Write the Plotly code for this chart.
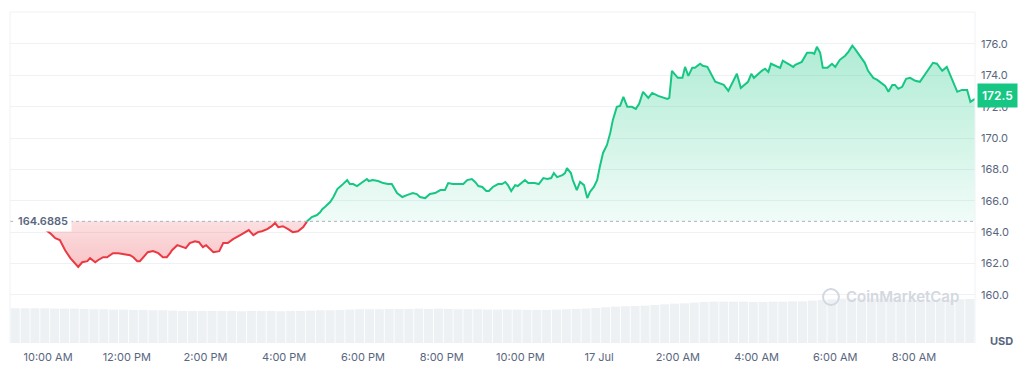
import numpy as np
import pandas as pd
import plotly.graph_objects as go

# ---------------- data ----------------
baseline = 164.6885

times16 = ["09:34","09:55","10:03","10:11","10:18","10:26","10:34","10:41","10:46","10:52",
           "11:00","11:04","11:12","11:16","11:24","11:30","11:39","11:47","11:57","12:05",
           "12:10","12:16","12:20","12:25","12:32","12:40","12:48","12:55","13:01","13:06",
           "13:09","13:17","13:24","13:30","13:36","13:44","13:50","13:56","14:01","14:07",
           "14:12","14:21","14:27","14:34","14:42","14:53","15:00","15:06","15:13","15:20",
           "15:26","15:34","15:41","15:46","15:51","15:58","16:06","16:13","16:21","16:29",
           "16:35","16:42","16:50","16:55","16:58","17:02","17:10","17:15","17:21","17:28",
           "17:36","17:40","17:45","17:51","17:59","18:06","18:09","18:15","18:23","18:31",
           "18:38","18:44","18:52","19:00","19:07","19:16","19:22","19:27","19:35","19:42",
           "19:50","19:58","20:05","20:10","20:17","20:28","20:33","20:39","20:46","20:51",
           "20:56","21:02","21:08","21:12","21:18","21:26","21:32","21:37","21:41","21:46",
           "21:52","21:56","22:03","22:07","22:12","22:18","22:22","22:28","22:35","22:41",
           "22:47","22:51","22:56","23:04","23:08","23:11","23:17","23:20","23:26","23:31",
           "23:37","23:42","23:46","23:52","23:57"]
prices16 = [164.69,164.19,163.94,163.62,163.49,162.85,162.34,162.02,161.78,162.08,
            162.15,162.34,162.08,162.21,162.40,162.40,162.66,162.66,162.59,162.53,
            162.40,162.15,162.15,162.40,162.72,162.79,162.66,162.40,162.40,162.66,
            162.85,163.17,163.04,162.98,163.30,163.42,163.36,163.04,163.17,162.91,
            162.72,162.79,163.30,163.30,163.55,163.81,164.00,164.13,163.81,164.00,
            164.06,164.19,164.38,164.58,164.32,164.38,164.19,164.00,164.06,164.32,
            164.70,164.96,165.09,165.28,165.47,165.60,165.92,166.24,166.75,167.00,
            167.32,167.07,167.07,166.94,167.20,167.39,167.26,167.32,167.26,167.13,
            167.07,167.07,166.49,166.24,166.36,166.49,166.43,166.24,166.17,166.43,
            166.49,166.68,166.68,167.13,167.07,167.07,167.07,167.32,167.39,167.20,
            166.94,166.88,166.62,166.62,166.88,167.07,167.07,167.20,167.00,166.62,
            167.00,166.94,167.20,167.32,167.13,167.13,167.13,167.07,167.45,167.39,
            167.45,167.77,167.51,167.64,167.77,168.09,167.77,167.32,166.68,167.20,
            167.00,166.17,166.56,166.88,167.32]

times17 = ["00:01","00:06","00:12","00:17","00:21","00:27","00:32","00:37","00:43","00:50",
           "00:56","01:01","01:07","01:15","01:21","01:30","01:44","01:47","01:51","02:00",
           "02:07","02:11","02:16","02:22","02:26","02:34","02:38","02:45","02:57","03:04",
           "03:10","03:17","03:27","03:30","03:36","03:42","03:47","03:52","03:56","04:08",
           "04:13","04:18","04:22","04:36","04:40","04:56","04:59","05:09","05:17","05:25",
           "05:28","05:32","05:37","05:41","05:48","05:55","06:00","06:07","06:15","06:20",
           "06:26","06:30","06:38","06:45","06:50","06:58","07:04","07:11","07:16","07:21",
           "07:27","07:31","07:36","07:42","07:48","07:54","08:02","08:09","08:14","08:22",
           "08:29","08:35","08:43","08:50","08:58","09:06","09:13","09:21","09:26","09:33"]
prices17 = [168.15,169.05,169.56,170.33,171.16,171.99,172.05,172.63,171.99,171.99,
            171.86,172.18,172.95,172.56,172.88,172.69,172.50,172.56,174.29,173.84,
            173.84,174.54,173.97,174.48,174.48,174.74,174.61,174.54,173.59,173.46,
            173.39,173.01,173.90,174.10,173.20,173.39,173.59,174.10,173.84,174.29,
            174.42,174.22,174.74,174.48,174.93,174.54,174.67,174.86,175.44,175.44,
            175.37,175.82,175.44,174.48,174.48,174.74,174.54,174.99,175.25,175.50,
            175.89,175.69,175.18,174.80,174.29,173.84,173.71,173.52,173.33,172.95,
            173.39,173.39,173.14,173.27,173.78,173.84,173.65,173.59,173.90,174.42,
            174.80,174.74,174.29,174.54,173.71,172.95,173.07,173.07,172.31,172.50]

# volume bars, every 15 minutes starting 09:10 on 16 Jul (relative units)
volume = [10.5,10.5,10.5,10.5,10.4,10.4,10.4,10.3,10.2,10.2,
          10.1,10.1,10.0,10.0,9.9,9.9,9.8,9.7,9.7,9.7,
          9.7,9.7,9.7,9.6,9.7,9.7,9.7,9.6,9.7,9.7,
          9.8,9.9,9.9,10.0,10.1,10.2,10.2,10.2,10.3,10.3,
          10.3,10.4,10.3,10.4,10.3,10.2,10.2,10.2,10.1,10.1,
          10.1,10.1,10.0,10.0,10.0,10.1,10.2,10.3,10.4,10.6,
          10.8,11.0,11.1,11.2,11.3,11.5,11.7,11.9,12.0,12.2,
          12.4,12.5,12.5,12.5,12.5,12.4,12.4,12.5,12.5,12.6,
          12.6,12.8,13.0,13.2,13.4,13.4,13.4,13.4,13.4,13.4,
          13.2,13.1,13.1,13.1,13.1,13.1,13.2,13.3]

x_ticktext = ["10:00 AM","12:00 PM","2:00 PM","4:00 PM","6:00 PM","8:00 PM",
              "10:00 PM","17 Jul","2:00 AM","4:00 AM","6:00 AM","8:00 AM"]
y_tickvals = [160, 162, 164, 166, 168, 170, 172, 174, 176]

# ---------------- preparation ----------------
t = list(pd.to_datetime(["2024-07-16 " + s for s in times16] +
                        ["2024-07-17 " + s for s in times17]))
p = prices16 + prices17

xs, ys = [t[0]], [p[0]]
for i in range(1, len(p)):
    a, b = p[i - 1] - baseline, p[i] - baseline
    if a * b < 0:
        frac = (baseline - p[i - 1]) / (p[i] - p[i - 1])
        xs.append(t[i - 1] + (t[i] - t[i - 1]) * frac)
        ys.append(baseline)
    xs.append(t[i])
    ys.append(p[i])

GREEN = "#16c784"
RED = "#ea3943"
TXT = "#58667e"
GRID = "#eff2f5"

green_line = [y if y >= baseline else None for y in ys]
red_line = [y if y <= baseline else None for y in ys]
green_fill = [max(y, baseline) for y in ys]
red_fill = [min(y, baseline) for y in ys]
base_arr = [baseline] * len(ys)

vol_t = pd.date_range("2024-07-16 09:10", periods=len(volume), freq="15min")
x_tickvals = pd.date_range("2024-07-16 10:00", periods=len(x_ticktext), freq="2h")

fig = go.Figure()

fig.add_trace(go.Bar(x=vol_t, y=volume, yaxis="y2", marker=dict(color="#eef1f4", line_width=0),
                     hoverinfo="skip"))

fig.add_trace(go.Scatter(x=xs, y=base_arr, mode="lines", line=dict(width=0), hoverinfo="skip"))
fig.add_trace(go.Scatter(x=xs, y=red_fill, mode="lines", line=dict(width=0), fill="tonexty",
                         fillgradient=dict(type="vertical",
                                           colorscale=[[0, "rgba(234,57,67,0.30)"],
                                                       [1, "rgba(234,57,67,0.16)"]]),
                         hoverinfo="skip"))
fig.add_trace(go.Scatter(x=xs, y=base_arr, mode="lines", line=dict(width=0), hoverinfo="skip"))
fig.add_trace(go.Scatter(x=xs, y=green_fill, mode="lines", line=dict(width=0), fill="tonexty",
                         fillgradient=dict(type="vertical",
                                           colorscale=[[0, "rgba(22,199,132,0.06)"],
                                                       [1, "rgba(22,199,132,0.34)"]]),
                         hoverinfo="skip"))
fig.add_trace(go.Scatter(x=xs, y=red_line, mode="lines", line=dict(color=RED, width=2),
                         connectgaps=False))
fig.add_trace(go.Scatter(x=xs, y=green_line, mode="lines", line=dict(color=GREEN, width=2),
                         connectgaps=False))

shapes = [
    dict(type="line", xref="paper", yref="y", x0=0, x1=1, y0=baseline, y1=baseline,
         line=dict(color="#a9b1bf", width=1, dash="dot"), layer="above"),
    dict(type="line", xref="paper", yref="paper", x0=0, x1=0, y0=0, y1=1,
         line=dict(color=GRID, width=1)),
    dict(type="line", xref="paper", yref="paper", x0=1, x1=1, y0=0, y1=1,
         line=dict(color=GRID, width=1)),
    dict(type="line", xref="paper", yref="paper", x0=0, x1=1, y0=1, y1=1,
         line=dict(color=GRID, width=1)),
    dict(type="circle", xref="paper", yref="paper", x0=0.8425, x1=0.859, y0=0.1148, y1=0.163,
         line=dict(color="#d3d8e0", width=2)),
]

annotations = [
    dict(xref="paper", yref="y", x=0.004, y=baseline, xanchor="left", yanchor="middle",
         text=f"{baseline:.4f}", showarrow=False, bgcolor="white", borderpad=3,
         font=dict(family="Inter", size=11, color=TXT, weight=600)),
    dict(xref="paper", yref="y", x=1.002, y=p[-1], xanchor="left", yanchor="middle",
         yshift=3, text=f"{p[-1]:.1f}", showarrow=False, bgcolor=GREEN, borderpad=4,
         font=dict(family="Inter", size=12, color="white", weight=600)),
    dict(xref="paper", yref="paper", x=1.027, y=0.006, xanchor="center", yanchor="middle",
         text="USD", showarrow=False,
         font=dict(family="Inter", size=11, color=TXT, weight=700)),
    dict(xref="paper", yref="paper", x=0.925, y=0.139, xanchor="center", yanchor="middle",
         text="CoinMarketCap", showarrow=False,
         font=dict(family="Inter", size=15, color="#d3d8e0", weight=600)),
]

fig.update_layout(
    width=1024, height=365,
    margin=dict(l=10, r=49, t=12, b=22, autoexpand=False),
    paper_bgcolor="white", plot_bgcolor="white",
    showlegend=False, bargap=0.08,
    font=dict(family="Inter", size=11, color=TXT),
    xaxis=dict(type="date", automargin=False,
               range=["2024-07-16 09:02", "2024-07-17 09:33"],
               tickvals=list(x_tickvals), ticktext=x_ticktext,
               showgrid=False, zeroline=False, showline=False, ticks="",
               tickfont=dict(family="Inter", size=11, color=TXT),
               ticklabelstandoff=6),
    yaxis=dict(range=[156.93, 178.04], side="right", automargin=False,
               tickvals=y_tickvals, ticktext=[f"{v:.1f}" for v in y_tickvals],
               showgrid=True, gridcolor=GRID, gridwidth=1,
               zeroline=False, showline=False, ticks="",
               tickfont=dict(family="Inter", size=11, color=TXT),
               ticklabelstandoff=5),
    yaxis2=dict(overlaying="y", range=[0, 100], visible=False, automargin=False),
    shapes=shapes, annotations=annotations,
)

fig.write_html("out.html")
